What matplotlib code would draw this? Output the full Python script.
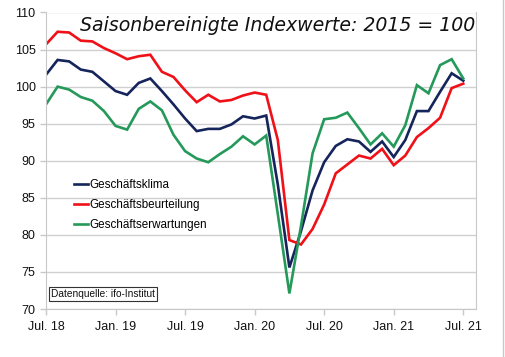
import matplotlib
matplotlib.use('Agg')
from matplotlib import pyplot as plt
from matplotlib.lines import Line2D

# ifo Geschäftsklima, monatlich Jul. 2018 - Jul. 2021
tick_labels = ['Jul. 18', 'Jan. 19', 'Jul. 19', 'Jan. 20', 'Jul. 20', 'Jan. 21', 'Jul. 21']
klima = [101.6, 103.6, 103.4, 102.3, 102.0, 100.7, 99.4, 98.9, 100.5, 101.1,
         99.4, 97.6, 95.7, 94.0, 94.3, 94.3, 94.9, 96.0, 95.7, 96.1,
         86.8, 75.6, 80.5, 86.0, 89.8, 92.0, 92.9, 92.6, 91.2, 92.6,
         90.5, 92.8, 96.7, 96.7, 99.3, 101.8, 100.8]
lage = [105.7, 107.4, 107.3, 106.2, 106.1, 105.2, 104.5, 103.7, 104.1, 104.3,
        102.0, 101.3, 99.5, 97.9, 98.9, 98.0, 98.2, 98.8, 99.2, 98.9,
        92.8, 79.3, 78.7, 80.8, 84.1, 88.3, 89.5, 90.7, 90.3, 91.6,
        89.4, 90.7, 93.2, 94.4, 95.8, 99.8, 100.4]
erwartung = [97.6, 100.0, 99.6, 98.6, 98.1, 96.7, 94.7, 94.2, 97.0, 98.0,
             96.8, 93.5, 91.3, 90.3, 89.8, 90.9, 91.9, 93.3, 92.2, 93.4,
             82.8, 72.1, 81.2, 91.0, 95.6, 95.8, 96.5, 94.4, 92.2, 93.7,
             91.9, 94.8, 100.2, 99.1, 102.9, 103.7, 101.1]
namen = ['Geschäftsklima', 'Geschäftsbeurteilung', 'Geschäftserwartungen']
farben = ['#15245a', '#f01018', '#24995a']

plt.rcParams['font.family'] = ['Liberation Sans', 'DejaVu Sans']

W, H = 506, 357
fig = plt.figure(figsize=(W / 100, H / 100), dpi=100)
ax = fig.add_axes([46 / W, (H - 309) / H, (476 - 46) / W, (309 - 12.5) / H])

x = list(range(len(klima)))
for werte, farbe in zip([klima, lage, erwartung], farben):
    ax.plot(x, werte, c=farbe, lw=1.9, solid_joinstyle='miter')

ax.set_xlim(0, 37.1)
ax.set_ylim(70, 110)
ax.set_yticks(range(70, 111, 5))
ax.set_xticks(range(0, 37, 6))
ax.set_xticklabels(tick_labels)
ax.grid(axis='y', color='#d0d0d0', lw=1)
ax.set_axisbelow(True)
for s in ['left', 'bottom', 'right']:
    ax.spines[s].set_color('#c8c8c8')
ax.spines['top'].set_visible(False)
ax.tick_params(axis='both', colors='#c8c8c8', labelcolor='#111111',
               labelsize=9, length=4, width=1)
ax.tick_params(axis='x', pad=5)

# Titel
ax.text(0.998, 0.955, 'Saisonbereinigte Indexwerte: 2015 = 100',
        transform=ax.transAxes, ha='right', va='center',
        fontsize=13.6, style='italic', family='DejaVu Sans', color='#111111')

# Legende
handles = [Line2D([], [], c=f, lw=1.9) for f in farben]
ax.legend(handles, namen, loc='upper left', bbox_to_anchor=(0.055, 0.455),
          frameon=False, fontsize=8.4, handlelength=1.2, handletextpad=0.1,
          labelspacing=0.68, borderaxespad=0)

ax.text(0.012, 0.035, 'Datenquelle: ifo-Institut', transform=ax.transAxes,
        fontsize=7.3, ha='left', va='bottom', color='#111111',
        bbox=dict(boxstyle='square,pad=0.2', fc='white', ec='#333333', lw=0.8))

fig.add_artist(Line2D([503 / W, 503 / W], [0, 1], color='#c8c8c8', lw=1))

fig.savefig('out.png', dpi=100)
